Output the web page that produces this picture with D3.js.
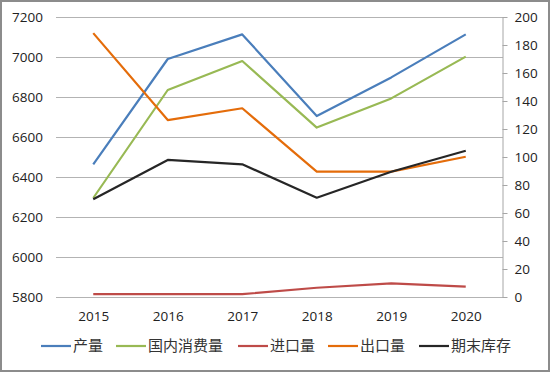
<!DOCTYPE html>
<html>
<head>
<meta charset="utf-8">
<script src="https://cdn.jsdelivr.net/npm/d3@7"></script>
<style>
  body { margin: 0; background: #fff; }
  svg { display: block; }
</style>
</head>
<body>
<svg id="chart" width="550" height="373"></svg>
<script>
// years on the x axis
var years = ['2015', '2016', '2017', '2018', '2019', '2020'];

// left axis series
var output = [6463, 6990, 7113, 6705, 6898, 7113];       // 产量
var consumption = [6295, 6835, 6980, 6647, 6793, 7002];  // 国内消费量

// right axis series
var imports = [2, 2, 2, 6.6, 9.8, 7.4];                  // 进口量
var exports = [188.5, 126.4, 134.8, 89.5, 89.5, 100.2];  // 出口量
var stocks = [69.8, 97.9, 94.8, 70.9, 89.5, 104.5];      // 期末库存

var leftTicks = [5800, 6000, 6200, 6400, 6600, 6800, 7000, 7200];
var rightTicks = [0, 20, 40, 60, 80, 100, 120, 140, 160, 180, 200];

var series = [
  {name: '产量', values: output, axis: 'left', color: '#4a7ebb'},
  {name: '国内消费量', values: consumption, axis: 'left', color: '#98b954'},
  {name: '进口量', values: imports, axis: 'right', color: '#be4b48'},
  {name: '出口量', values: exports, axis: 'right', color: '#e46c0a'},
  {name: '期末库存', values: stocks, axis: 'right', color: '#262626'}
];

var svg = d3.select('#chart');
// plot area edges (window.top is reserved, so use other names)
var plotL = 56, plotR = 503, plotT = 17, plotB = 297;

// outer frame
svg.append('rect')
  .attr('x', 1).attr('y', 1)
  .attr('width', 548).attr('height', 370)
  .attr('fill', 'none')
  .attr('stroke', '#8c8c8c')
  .attr('stroke-width', 2);

var x = d3.scalePoint().domain(years).range([plotL, plotR]).padding(0.5);
var yL = d3.scaleLinear().domain([5800, 7200]).range([plotB, plotT]);
var yR = d3.scaleLinear().domain([0, 200]).range([plotB, plotT]);

// gridlines
svg.append('g').selectAll('line').data(leftTicks).enter()
  .append('line')
  .attr('x1', plotL).attr('x2', plotR)
  .attr('y1', function(d) { return yL(d) + 0.5; })
  .attr('y2', function(d) { return yL(d) + 0.5; })
  .attr('stroke', '#b3b3b3')
  .attr('stroke-width', 1);

// left axis labels
var axL = svg.append('g')
  .attr('transform', 'translate(' + plotL + ',0)')
  .call(d3.axisLeft(yL).tickValues(leftTicks).tickSize(0).tickPadding(13).tickFormat(d3.format('d')));
axL.select('.domain').remove();

// right axis
var axR = svg.append('g')
  .attr('transform', 'translate(' + (plotR - 0.5) + ',0)')
  .call(d3.axisRight(yR).tickValues(rightTicks).tickSize(5).tickPadding(7).tickSizeOuter(0));
axR.select('.domain').attr('stroke', '#a6a6a6');
axR.selectAll('.tick line').attr('stroke', '#a6a6a6');

// x axis labels
var axX = svg.append('g')
  .attr('transform', 'translate(0,' + plotB + ')')
  .call(d3.axisBottom(x).tickSize(0).tickPadding(14));
axX.select('.domain').remove();

svg.selectAll('.tick text')
  .attr('fill', '#222')
  .style('font-family', '"Open Sans", sans-serif')
  .style('font-size', '13.5px');

// lines
var line = function(s) {
  var y = s.axis === 'left' ? yL : yR;
  return d3.line()
    .x(function(d, i) { return x(years[i]); })
    .y(function(d) { return y(d); })(s.values);
};

svg.append('g').selectAll('path').data(series).enter()
  .append('path')
  .attr('d', line)
  .attr('fill', 'none')
  .attr('stroke', function(d) { return d.color; })
  .attr('stroke-width', 2.2)
  .attr('stroke-linejoin', 'round');

// legend
var legendX = [41, 116, 238, 328, 419];
var legend = svg.append('g').selectAll('g').data(series).enter()
  .append('g')
  .attr('transform', function(d, i) { return 'translate(' + legendX[i] + ',346)'; });

legend.append('line')
  .attr('x1', 0).attr('x2', 30)
  .attr('stroke', function(d) { return d.color; })
  .attr('stroke-width', 2.2);

legend.append('text')
  .attr('x', 32).attr('y', 5)
  .attr('fill', '#333')
  .style('font-family', '"Noto Sans CJK SC", sans-serif')
  .style('font-size', '15px')
  .text(function(d) { return d.name; });
</script>
</body>
</html>
